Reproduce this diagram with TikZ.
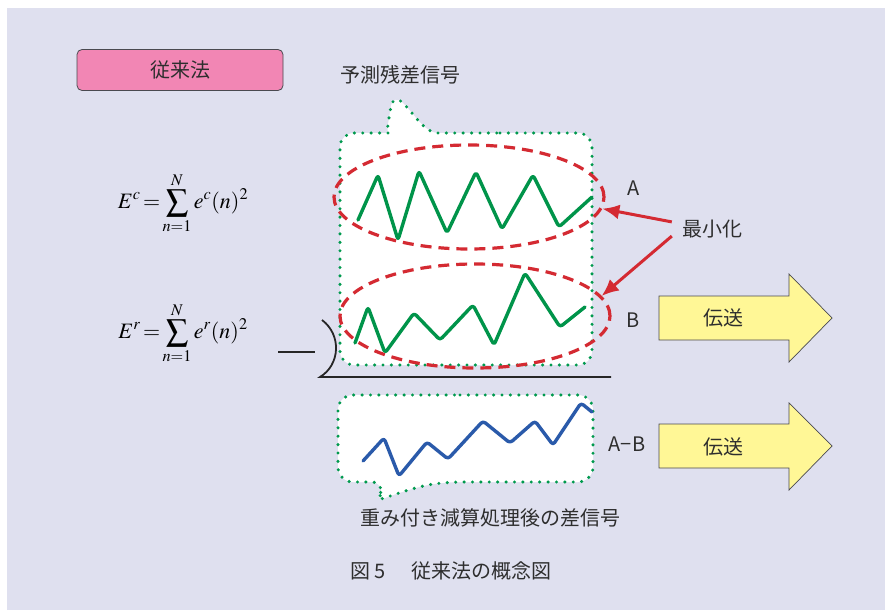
\documentclass[tikz,border=0pt]{standalone}
\usepackage{mathptmx}
\usepackage{fontspec}
\setmainfont{Noto Sans CJK JP}
\usetikzlibrary{arrows.meta,shapes.geometric}

\definecolor{bglav}{HTML}{DFE0EF}
\definecolor{pinkbox}{HTML}{F286B4}
\definecolor{darkline}{HTML}{4A4A50}
\definecolor{textgray}{HTML}{2E2E2E}
\definecolor{dotgreen}{HTML}{009A4E}
\definecolor{wavegreen}{HTML}{00944A}
\definecolor{redline}{HTML}{D42A32}
\definecolor{waveblue}{HTML}{2A5AAA}
\definecolor{sendyellow}{HTML}{FFF796}

\begin{document}
\begin{tikzpicture}[x=1pt, y=-1pt,
    font=\fontsize{20}{23}\selectfont, text=textgray,
    methodbox/.style={draw=darkline, rounded corners=5pt, fill=pinkbox, line width=0.8pt, minimum width=206pt, minimum height=41pt},
    tag/.style={inner sep=2pt},
    formula/.style={font=\fontsize{22}{26}\selectfont, text=black, inner sep=0pt},
    bubble/.style={draw=dotgreen, fill=white, line width=3.4pt, line cap=round, dash pattern=on 0pt off 8.4pt},
    errset/.style={draw=redline, ellipse, line width=3.2pt, dash pattern=on 11pt off 7pt, minimum width=270pt, minimum height=104pt, inner sep=0pt},
    wave/.style={line width=3.4pt, line join=round, line cap=round, rounded corners=3pt},
    minarrow/.style={-{Latex[length=17pt,width=15pt]}, draw=redline, line width=3pt},
    sendarrow/.style={draw=darkline, fill=sendyellow, line width=0.7pt},
    subline/.style={draw=black!85, line width=1.8pt}
  ]
  % frame
  \useasboundingbox (0,0) rectangle (885,610);
  \fill[white] (0,0) rectangle (885,610);
  \fill[bglav] (7,8) rectangle (885,610);

  % speech bubbles
  \draw[bubble, rounded corners=14pt] (500,133) -- (592,133) -- (592,365) -- (340,365) -- (340,133) -- (375,133)
    .. controls (386,133) and (388,125) .. (393,93)
    .. controls (415,115) and (425,133) .. (452,133) -- (500,133);
  \draw[bubble, rounded corners=15pt] (460,395) -- (593,395) -- (593,482) -- (447,482)
    .. controls (420,486) and (395,494) .. (373,503)
    .. controls (378,496) and (383,489) .. (386,482) -- (338,482) -- (338,395) -- (460,395);

  % error sets
  \node[errset] (ellA) at (469,197) {};
  \node[errset] (ellB) at (475,316) {};

  % signals
  \draw[wave, wavegreen] (358,220) -- (378,175) -- (398,240) -- (419,171) -- (447,233) -- (476,172)
    -- (502,229) -- (533,175) -- (559,227) -- (592,197);
  \draw[wave, wavegreen] (355,343) -- (368,307) -- (385,353) -- (414,313) -- (440,340) -- (473,305)
    -- (494,345) -- (525,273) -- (560,327) -- (585,307);
  \draw[wave, waveblue] (363,461) -- (384,438) -- (399,476) -- (427,442) -- (448,459) -- (483,421)
    -- (510,443) -- (535,421) -- (553,445) -- (581,403) -- (592,412);

  % subtraction
  \draw[subline] (278,352) -- (315,352);
  \draw[subline] (322,320) .. controls (342,335) and (340,365) .. (320,377) -- (611,377);

  % texts
  \node[methodbox] (method) at (180,70) {従来法};
  \node[tag] (resid) at (400,75) {予測残差信号};
  \node[formula] (errC) at (183,203) {$\displaystyle E^{c}\!=\!\sum_{n=1}^{N}e^{c}(n)^{2}$};
  \node[formula] (errR) at (183,333) {$\displaystyle E^{r}\!=\!\sum_{n=1}^{N}e^{r}(n)^{2}$};
  \node[tag] (labA) at (634,188) {A};
  \node[tag] (labB) at (633,320) {B};
  \node[tag, inner xsep=10pt] (minimize) at (712,229) {最小化};
  \node[tag] (labAB) at (627,444) {A−B};
  \node[tag] (wsub) at (490,518) {重み付き減算処理後の差信号};
  \node[tag] (caption) at (451,571) {図 5\hspace{26pt}従来法の概念図};

  % minimisation arrows
  \draw[minarrow] (minimize.170) -- (ellA.-5);
  \draw[minarrow] (minimize.190) -- (ellB.9);

  % transmission
  \draw[sendarrow] (659,296) -- (789,296) -- (789,274) -- (832,318) -- (789,362) -- (789,340) -- (659,340) -- cycle;
  \node[tag] (send1) at (723,318) {伝送};
  \draw[sendarrow] (659,424) -- (789,424) -- (789,403) -- (832,446) -- (789,490) -- (789,468) -- (659,468) -- cycle;
  \node[tag] (send2) at (723,447) {伝送};
\end{tikzpicture}
\end{document}
